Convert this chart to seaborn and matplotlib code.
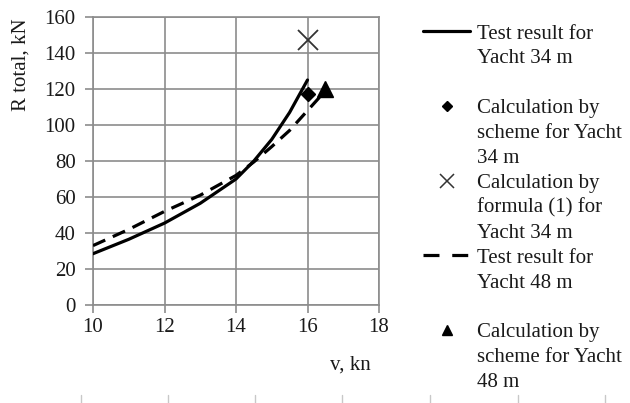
import matplotlib
matplotlib.use("Agg")
import matplotlib.pyplot as plt
import seaborn as sns
import pandas as pd
from matplotlib.lines import Line2D

# ---- data ----
v_34 = [10, 11, 12, 13, 14, 14.5, 15, 15.5, 16]
r_34 = [28.5, 36.5, 45.5, 56.5, 70, 80, 92, 107, 125]
v_48 = [10, 11, 12, 13, 14, 14.5, 15, 15.5, 16, 16.5]
r_48 = [33, 42, 52, 61, 72, 79.5, 88, 97, 108, 119]
scheme34_v = [16]
scheme34_r = [117]
formula34_v = [16]
formula34_r = [147]
scheme48_v = [16.5]
scheme48_r = [120]
x_ticks = [10, 12, 14, 16, 18]
y_ticks = [0, 20, 40, 60, 80, 100, 120, 140, 160]

sns.set_theme(style="white")
plt.rcParams["font.family"] = ["Liberation Serif", "DejaVu Serif"]
FS = 15
GRID = "#8c8c8c"
TXT = "#1a1a1a"

fig = plt.figure(figsize=(6.3, 4.03), dpi=100)
ax = fig.add_axes([93 / 630, 1 - 305 / 403, (379 - 93) / 630, (305 - 17) / 403])

df34 = pd.DataFrame({"v": v_34, "r": r_34})
df48 = pd.DataFrame({"v": v_48, "r": r_48})
sns.lineplot(data=df34, x="v", y="r", ax=ax, color="black", lw=2.3,
             solid_capstyle="round", zorder=3)
sns.lineplot(data=df48, x="v", y="r", ax=ax, color="black", lw=2.3,
             dashes=False, zorder=3)
ax.lines[-1].set_dashes((4.2, 2.6))
ax.plot(scheme34_v, scheme34_r, ls="none", marker="D", ms=7, color="black", zorder=4)
ax.plot(formula34_v, formula34_r, ls="none", marker="x", ms=14, mew=1.3,
        color="#333333", zorder=4)
ax.plot(scheme48_v, scheme48_r, ls="none", marker="^", ms=11.5, color="black", zorder=4)

ax.set_xlim(10, 18)
ax.set_ylim(0, 160)
ax.set_xticks(x_ticks)
ax.set_yticks(y_ticks)
ax.grid(True, color=GRID, lw=1.2)
for s in ax.spines.values():
    s.set_color(GRID)
    s.set_linewidth(1.2)
ax.tick_params(axis="both", direction="out", length=5.5, width=1.2, color=GRID,
               labelsize=FS, labelcolor=TXT)
ax.tick_params(axis="x", pad=4, bottom=True)
ax.tick_params(axis="y", pad=7, left=True)

ax.set_xlabel("v, kn", fontsize=FS, color=TXT)
ax.set_ylabel("R total, kN", fontsize=FS, color=TXT)
ax.xaxis.set_label_coords(0.9, -0.175)
ax.yaxis.set_label_coords(-0.217, 0.833)

# ---- legend: handle on the first line of each entry ----
blank = Line2D([], [], color="none")
h_solid = Line2D([], [], color="black", lw=2.3)
h_diam = Line2D([], [], ls="none", marker="D", ms=5.2, color="black")
h_x = Line2D([], [], ls="none", marker="x", ms=9.5, mew=1.1, color="#333333")
h_dash = Line2D([], [], color="black", lw=2.3, dashes=(5.0, 4.0))
h_tri = Line2D([], [], ls="none", marker="^", ms=7.5, color="black")
rows = [
    (h_solid, "Test result for"), (blank, "Yacht 34 m"), (blank, " "),
    (h_diam, "Calculation by"), (blank, "scheme for Yacht"), (blank, "34 m"),
    (h_x, "Calculation by"), (blank, "formula (1) for"), (blank, "Yacht 34 m"),
    (h_dash, "Test result for"), (blank, "Yacht 48 m"), (blank, " "),
    (h_tri, "Calculation by"), (blank, "scheme for Yacht"), (blank, "48 m"),
]
leg = ax.legend([r[0] for r in rows], [r[1] for r in rows],
                loc="upper left", bbox_to_anchor=(423 / 630, 1 - 24 / 403),
                bbox_transform=fig.transFigure, frameon=False, fontsize=FS,
                borderpad=0, borderaxespad=0, handlelength=2.26,
                handletextpad=0.34, labelspacing=0.255)
for t in leg.get_texts():
    t.set_color(TXT)

# faint tick stubs along the bottom edge of the image
stub_x = [81, 168, 255, 342, 430, 518, 605]
for xs in stub_x:
    fig.add_artist(Line2D([xs / 630, xs / 630], [0, 8 / 403], color="#c8c8c8",
                          lw=1, transform=fig.transFigure))

fig.savefig("out.png", dpi=100)
